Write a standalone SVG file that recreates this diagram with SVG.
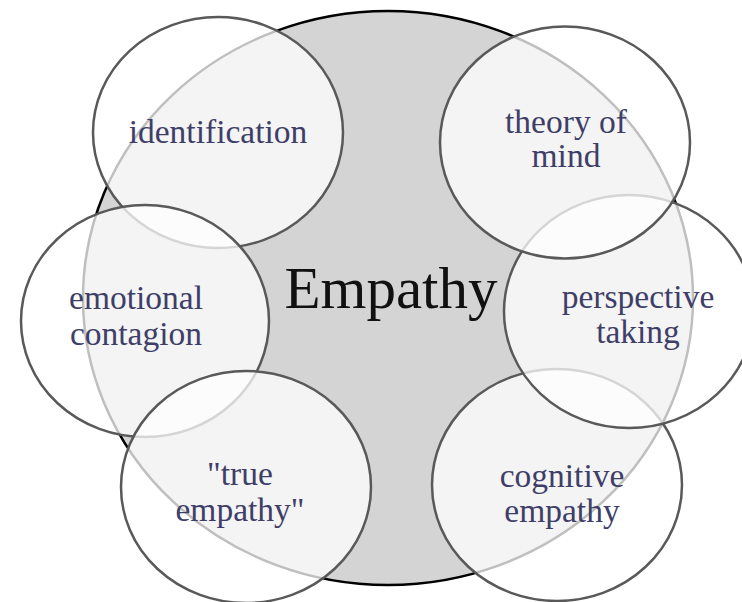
<svg xmlns="http://www.w3.org/2000/svg" width="742" height="602" viewBox="0 0 742 602">
<style>
.bub{fill:#ffffff;fill-opacity:0.75;stroke:#595959;stroke-width:2.5}
.lbl{font-family:"Liberation Serif","Times New Roman",serif;font-size:33.5px;fill:#3e3e68;text-anchor:middle}
.main{font-family:"Liberation Serif","Times New Roman",serif;font-size:59px;fill:#111111;text-anchor:middle}
</style>
<rect width="742" height="602" fill="#ffffff"/>
<g id="empathy">
<ellipse cx="388" cy="298" rx="305" ry="287" fill="#d4d4d4" stroke="#000000" stroke-width="2.5"/>
<text class="main" x="391" y="308">Empathy</text>
</g>
<g id="identification">
<ellipse class="bub" cx="218" cy="132.5" rx="125" ry="115.5"/>
<text class="lbl" x="218" y="143">identification</text>
</g>
<g id="emotional-contagion">
<ellipse class="bub" cx="145" cy="321" rx="124" ry="116"/>
<text class="lbl" x="136" y="309">emotional</text>
<text class="lbl" x="136" y="345">contagion</text>
</g>
<g id="true-empathy">
<ellipse class="bub" cx="246" cy="487" rx="125" ry="116"/>
<text class="lbl" x="240" y="485">"true</text>
<text class="lbl" x="240" y="521">empathy"</text>
</g>
<g id="cognitive-empathy">
<ellipse class="bub" cx="557" cy="485" rx="125" ry="116"/>
<text class="lbl" x="562" y="487">cognitive</text>
<text class="lbl" x="562" y="522">empathy</text>
</g>
<g id="perspective-taking">
<ellipse class="bub" cx="629" cy="311.5" rx="125" ry="116.5"/>
<text class="lbl" x="638" y="308">perspective</text>
<text class="lbl" x="638" y="343">taking</text>
</g>
<g id="theory-of-mind">
<ellipse class="bub" cx="565" cy="142.5" rx="125" ry="116"/>
<text class="lbl" x="566" y="133">theory of</text>
<text class="lbl" x="566" y="167">mind</text>
</g>
</svg>
